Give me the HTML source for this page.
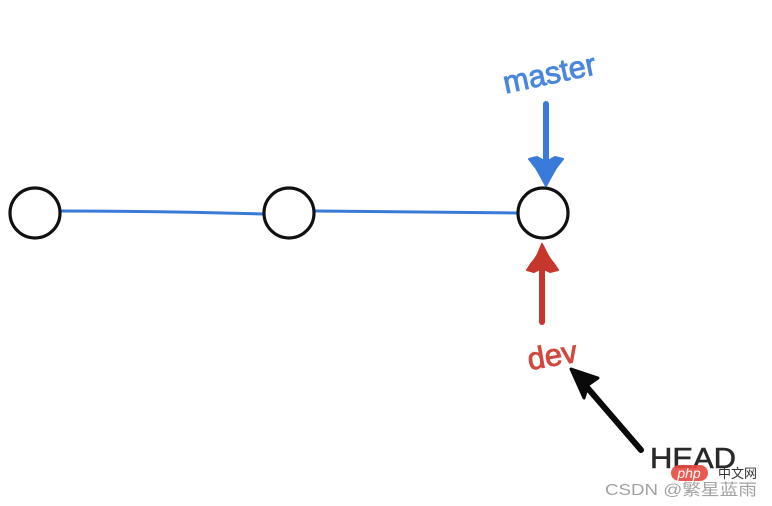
<!DOCTYPE html>
<html><head><meta charset="utf-8"><style>
html,body{margin:0;padding:0;background:#fff;}
svg{display:block;}
</style></head><body>
<svg width="772" height="506" viewBox="0 0 772 506" xmlns="http://www.w3.org/2000/svg">
<rect width="772" height="506" fill="#fff"/>
<!-- connectors -->
<path d="M61,211 Q160,211 263,214" stroke="#3a7ad8" stroke-width="3" fill="none" stroke-linecap="round"/>
<path d="M315,211 Q420,212 517,213" stroke="#3a7ad8" stroke-width="3" fill="none" stroke-linecap="round"/>
<!-- circles -->
<circle cx="35" cy="213" r="25" fill="#fff" stroke="#111" stroke-width="3.2"/>
<circle cx="289" cy="213" r="25" fill="#fff" stroke="#111" stroke-width="3.2"/>
<circle cx="543" cy="213" r="25" fill="#fff" stroke="#111" stroke-width="3.2"/>
<!-- master arrow -->
<line x1="546" y1="104" x2="546" y2="165" stroke="#3a7ad8" stroke-width="6" stroke-linecap="round"/>
<path d="M529,159 L537,157 L546,162 L555,157 L563,159 L556,168 L552,175 L546,186 L540,175 L536,168 Z" fill="#3a7ad8" stroke="#3a7ad8" stroke-width="2" stroke-linejoin="round"/>
<text x="549" y="84" transform="rotate(-12 549 72)" text-anchor="middle" font-family="Liberation Sans, sans-serif" font-size="31" fill="#4a86dc" stroke="#4a86dc" stroke-width="0.9" textLength="94" lengthAdjust="spacingAndGlyphs">master</text>
<!-- dev arrow -->
<line x1="542" y1="322" x2="542" y2="262" stroke="#c6362d" stroke-width="6" stroke-linecap="round"/>
<path d="M542,244 L547,254 L550,259 L554,264 L558,270 L550,272 L542,268 L534,272 L527,270 L531,264 L535,259 L538,254 Z" fill="#c6362d" stroke="#c6362d" stroke-width="2" stroke-linejoin="round"/>
<text x="552" y="366" transform="rotate(-10 552 354)" text-anchor="middle" font-family="Liberation Sans, sans-serif" font-size="31" fill="#d2483f" stroke="#d2483f" stroke-width="0.9" textLength="50" lengthAdjust="spacingAndGlyphs">dev</text>
<!-- HEAD arrow -->
<line x1="641" y1="450" x2="585" y2="385" stroke="#0a0a0a" stroke-width="6" stroke-linecap="round"/>
<path d="M571,369 L598,378 L588,385 L584,398 Z" fill="#0a0a0a" stroke="#0a0a0a" stroke-width="3" stroke-linejoin="round"/>
<text x="650" y="468" font-family="Liberation Sans, sans-serif" font-size="29" fill="#2a2a2a" stroke="#2a2a2a" stroke-width="0.6" textLength="86" lengthAdjust="spacingAndGlyphs">HEAD</text>
<!-- watermark -->
<rect x="671" y="465" width="37" height="16" rx="8" fill="#e9483f" opacity="0.9"/>
<text x="689" y="478" text-anchor="middle" font-family="Liberation Sans, sans-serif" font-style="italic" font-size="14" fill="#fff">php</text>
<text x="718" y="478" font-family="Liberation Sans, 'Noto Sans CJK SC', sans-serif" font-size="13" fill="#333">中文网</text>
<text x="605" y="495" font-family="Liberation Sans, 'Noto Sans CJK SC', sans-serif" font-size="16" fill="#999" opacity="0.9" textLength="152" lengthAdjust="spacingAndGlyphs">CSDN @繁星蓝雨</text>
</svg>
</body></html>
